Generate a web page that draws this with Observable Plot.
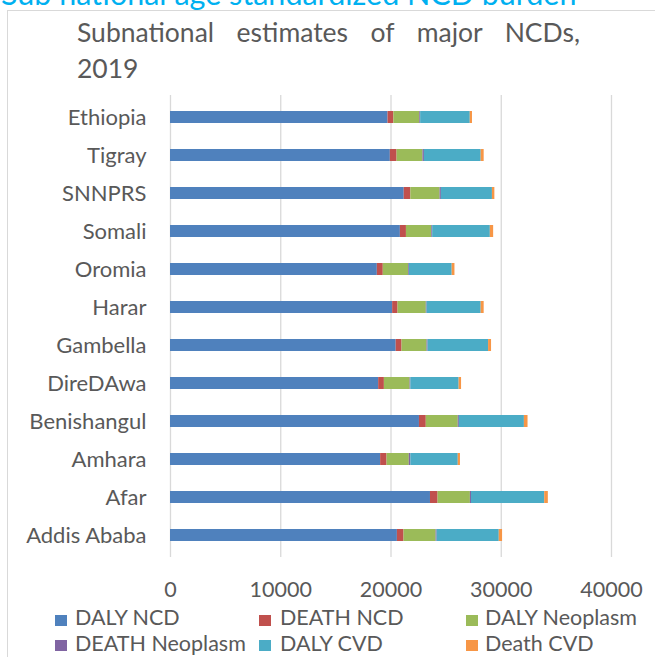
<!DOCTYPE html>
<html><head><meta charset="utf-8">
<script src="https://cdn.jsdelivr.net/npm/d3@7"></script>
<script src="https://cdn.jsdelivr.net/npm/@observablehq/plot@0.6"></script>
<style>
html,body{margin:0;padding:0;background:#fff;overflow:hidden;}
body{width:655px;height:657px;position:relative;font-family:Lato,"Open Sans",sans-serif;}
#chart{position:absolute;left:0;top:0;}
#toptitle{position:absolute;left:1px;top:-22px;font-size:30.5px;line-height:30px;color:#00B0F0;white-space:nowrap;}
#frame{position:absolute;left:7px;top:10px;width:800px;height:800px;border-left:1.5px solid #d9d9d9;border-top:1.5px solid #d9d9d9;}
#title{position:absolute;left:77px;top:14px;width:503px;font-size:26.5px;line-height:36px;color:#595959;}
#title .l1{text-align:justify;text-align-last:justify;white-space:normal;}
.leg{position:absolute;font-size:21.5px;line-height:1.2;color:#595959;white-space:nowrap;}
.sw{position:absolute;width:12px;height:11px;}
</style>
</head><body>
<div id="frame"></div>
<div id="chart"></div>
<div id="toptitle">Sub national age standardized NCD burden</div>
<div id="title"><div class="l1">Subnational estimates of major NCDs,</div><div>2019</div></div>
<div id="legend"></div>
<script>
const categories = ["Ethiopia","Tigray","SNNPRS","Somali","Oromia","Harar","Gambella","DireDAwa","Benishangul","Amhara","Afar","Addis Ababa"];
const seriesNames = ["DALY NCD","DEATH NCD","DALY Neoplasm","DEATH Neoplasm","DALY CVD","Death CVD"];
const seriesColors = ["#4F81BD","#C0504D","#9BBB59","#8064A2","#4BACC6","#F79646"];
const dalyNCD       = [19730,19940,21200,20850,18760,20150,20470,18880,22580,19060,23580,20580];
const deathNCD      = [  530,  610,  600,  550,  540,  490,  530,  520,  620,  580,  690,  600];
const dalyNeoplasm  = [ 2350, 2350, 2650, 2300, 2300, 2560, 2270, 2330, 2900, 2020, 2930, 2910];
const deathNeoplasm = [   80,  130,  120,   80,   70,   70,   90,   70,  100,  140,  100,   90];
const dalyCVD       = [ 4500, 5150, 4630, 5230, 3880, 4910, 5490, 4380, 5900, 4300, 6640, 5640];
const deathCVD      = [  200,  270,  220,  300,  250,  270,  270,  220,  330,  200,  330,  300];
const xTicks = [0,10000,20000,30000,40000];

const seriesValues = [dalyNCD, deathNCD, dalyNeoplasm, deathNeoplasm, dalyCVD, deathCVD];
const data = [];
seriesNames.forEach((s, si) => categories.forEach((c, ci) => data.push({category:c, series:s, value:seriesValues[si][ci]})));

const chart = Plot.plot({
  width:655, height:657,
  marginLeft:170, marginRight:44, marginTop:95, marginBottom:100,
  style:{fontFamily:"Lato, 'Open Sans', sans-serif", fontSize:"22px", color:"#595959", background:"transparent", overflow:"visible"},
  x:{domain:[0,40000]},
  y:{domain:categories, paddingInner:0.688, paddingOuter:0.344},
  color:{domain:seriesNames, range:seriesColors},
  marks:[
    Plot.gridX(xTicks, {stroke:"#d9d9d9", strokeOpacity:1, strokeWidth:1.3}),
    Plot.barX(data, Plot.stackX({y:"category", x:"value", fill:"series", z:"series", order:seriesNames})),
    Plot.axisX(xTicks, {tickSize:0, tickPadding:24, fill:"#595959", fontSize:21.5, tickFormat:d=>String(d), label:null}),
    Plot.axisY({tickSize:0, tickPadding:24, fill:"#595959", fontSize:22, label:null})
  ]
});
document.getElementById("chart").appendChild(chart);

// legend
const leg = document.getElementById("legend");
const colSw = [55, 259, 466], colTx = [75, 280, 485];
const rowSw = [614.5, 640], rowBase = [626.7, 652.7];
seriesNames.forEach((s, i) => {
  const r = Math.floor(i/3), c = i%3;
  const sw = document.createElement("div");
  sw.className = "sw"; sw.style.left = colSw[c]+"px"; sw.style.top = rowSw[r]+"px"; sw.style.background = seriesColors[i];
  leg.appendChild(sw);
  const t = document.createElement("div");
  t.className = "leg"; t.textContent = s; t.style.left = colTx[c]+"px"; t.style.top = (rowBase[r] - 0.987*21.5)+"px";
  leg.appendChild(t);
});
</script>
</body></html>
